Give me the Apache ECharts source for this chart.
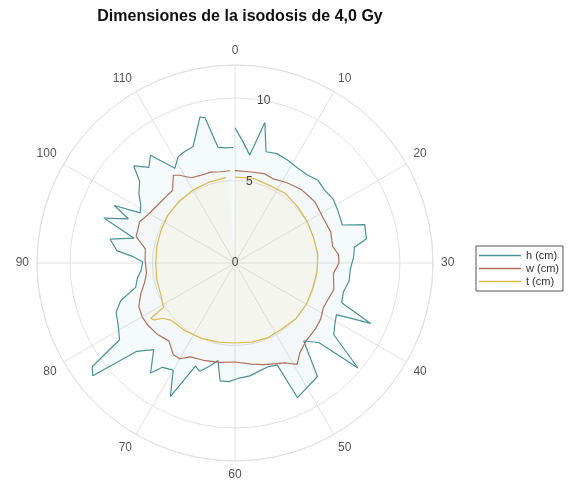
<!DOCTYPE html>
<html>
<head>
<meta charset="utf-8">
<script src="https://cdn.jsdelivr.net/npm/echarts@6/dist/echarts.min.js"></script>
<style>
  html, body { margin: 0; padding: 0; background: #fff; }
  #container { width: 576px; height: 485px; }
</style>
</head>
<body>
<div id="container"></div>
<script>
// angle axis runs 0..120 (clockwise, 0 at top), radius 0..12
const thetaTicks = [0, 10, 20, 30, 40, 50, 60, 70, 80, 90, 100, 110];
const rTicks = [0, 5, 10];
const seriesNames = ['h (cm)', 'w (cm)', 't (cm)'];

const hTheta = [0, 1.2, 2.6, 4.0, 5.2, 7, 9, 11, 13, 15, 17, 19, 21, 23.5, 24.5, 26.5, 27.5, 29, 31, 33,
    35, 36.8, 38, 39, 40.5, 42, 43.5, 44.5, 46.2, 48, 51.7, 52.5, 54, 55.6, 57.5, 59.5, 61, 62.4, 63.3, 64.5,
    66, 67, 68.6, 70, 71.6, 72.5, 74.4, 76, 77.2, 78, 78.8, 80.8, 82.5, 83.9, 85.4, 87, 88.6, 90.2, 91.2, 92,
    93.6, 94.6, 96.3, 97.5, 98.5, 99.3, 100.5, 102, 103.5, 104.6, 106, 107.3, 109.2, 110.6, 111.7, 113.4, 115.5, 116.1, 117.2, 118.5,
    119.7];
const hR = [8.2, 7.4, 6.6, 8.7, 7.0, 7.1, 7.0, 6.9, 6.9, 7.1, 7.0, 7.1, 7.0, 6.9, 8.2, 8.1, 7.3, 7.2, 7.0, 7.0,
    6.8, 6.9, 9.0, 6.9, 7.1, 7.4, 9.8, 7.0, 6.3, 8.5, 9.0, 6.7, 6.6, 6.7, 6.9, 7.0, 7.2, 7.2, 6.0, 6.4,
    6.9, 6.7, 9.0, 7.5, 7.7, 8.4, 7.2, 8.0, 11.0, 10.7, 8.4, 8.0, 7.8, 7.3, 6.2, 6.0, 5.7, 5.6, 6.2, 7.2,
    7.7, 6.3, 8.4, 7.0, 8.1, 6.5, 6.7, 7.2, 7.6, 8.5, 7.8, 8.3, 6.8, 7.3, 7.4, 7.5, 9.1, 9.0, 7.1, 7.0,
    7.0];

const wTheta = [0, 3, 6, 8, 11, 14, 17.5, 21, 24, 26.7, 28.5, 30, 32, 35, 38.9, 41, 43, 46, 48, 49.5,
    51, 54.7, 57, 60, 63, 66, 68.5, 70, 71.3, 73.4, 76, 78.4, 80, 81.9, 84, 86, 87.8, 90.6, 93, 95,
    97.8, 100, 102.3, 104.5, 106.4, 108.3, 109.2, 111, 113, 115, 117, 119];
const wR = [5.6, 5.6, 5.7, 5.6, 5.8, 6.0, 6.1, 6.0, 6.1, 6.0, 6.3, 6.3, 6.0, 6.2, 6.0, 6.2, 6.3, 6.4, 6.7, 7.2,
    6.8, 6.4, 6.2, 6.0, 6.1, 6.2, 6.3, 6.7, 6.7, 6.2, 6.4, 6.5, 6.5, 6.4, 6.0, 5.6, 5.4, 5.45, 5.5, 6.2,
    6.3, 6.0, 5.85, 5.8, 5.8, 6.5, 6.3, 5.8, 5.7, 5.7, 5.6, 5.6];

const tTheta = [0, 4, 8, 12, 16, 20, 24, 28, 32, 36, 40, 44, 48, 52, 56, 60, 64, 68, 72, 76,
    77.5, 78.3, 78.9, 79.4, 82, 86, 90, 94, 98, 102, 106, 110, 114, 118];
const tR = [5.2, 5.25, 5.15, 5.2, 5.1, 5.05, 5.0, 5.05, 5.0, 4.95, 5.0, 5.0, 4.9, 4.95, 4.9, 4.85, 4.9, 5.0, 5.1, 5.2,
    5.5, 6.0, 6.1, 5.1, 4.9, 4.85, 4.8, 4.85, 4.9, 5.0, 5.05, 5.1, 5.15, 5.2];

const lineColors = ['#4a9296', '#b0705c', '#d6bb50'];
const areaColors = ['rgba(120,200,210,0.10)', 'rgba(230,160,150,0.06)', 'rgba(250,235,160,0.12)'];

function pairs(rs, ts) {
    return rs.map((r, i) => [r, ts[i]]);
}

const seriesData = [pairs(hR, hTheta), pairs(wR, wTheta), pairs(tR, tTheta)];

let dom = document.getElementById('container');
let myChart = echarts.init(dom, null, { renderer: 'canvas' });

const labelFont = 'Liberation Sans';
const gridColor = '#e2e2e2';

let option = {
    animation: false,
    backgroundColor: '#fff',
    title: {
        text: 'Dimensiones de la isodosis de 4,0 Gy',
        left: 235,
        top: 4,
        textAlign: 'center',
        textStyle: { fontFamily: labelFont, fontSize: 16, fontWeight: 'bold', color: '#111' }
    },
    legend: {
        orient: 'vertical',
        left: 476,
        top: 246,
        icon: 'rect',
        itemWidth: 42,
        itemHeight: 1.5,
        itemGap: 2,
        padding: [4, 4, 4, 3],
        borderColor: '#555',
        borderWidth: 1,
        backgroundColor: '#fff',
        textStyle: { fontFamily: labelFont, fontSize: 11, color: '#333' },
        data: seriesNames
    },
    polar: [
        { center: [235, 263], radius: 198 },
        { center: [235, 263], radius: 198 }
    ],
    angleAxis: [
        {
            polarIndex: 0,
            type: 'value',
            min: 0,
            max: 120,
            interval: 10,
            startAngle: 90,
            clockwise: true,
            axisLine: { lineStyle: { color: gridColor, width: 1 } },
            axisTick: { show: false },
            axisLabel: {
                margin: 8,
                color: '#555',
                fontSize: 12,
                fontFamily: labelFont,
                formatter: v => thetaTicks.includes(v) ? String(v) : ''
            },
            splitLine: { show: true, lineStyle: { color: gridColor, width: 1 } }
        },
        {
            polarIndex: 1,
            type: 'value',
            min: 0,
            max: 120,
            startAngle: 80,
            clockwise: true,
            show: false
        }
    ],
    radiusAxis: [
        {
            polarIndex: 0,
            type: 'value',
            min: 0,
            max: 12,
            interval: 5,
            axisLine: { show: false },
            axisTick: { show: false },
            axisLabel: { show: false },
            splitLine: { show: true, lineStyle: { color: gridColor, width: 1 } }
        },
        {
            polarIndex: 1,
            type: 'value',
            min: 0,
            max: 12,
            interval: 5,
            z: 10,
            axisLine: { show: false },
            axisTick: { show: false },
            splitLine: { show: false },
            axisLabel: {
                margin: 0,
                align: 'center',
                verticalAlign: 'middle',
                color: '#444',
                fontSize: 12,
                fontFamily: labelFont,
                formatter: v => rTicks.includes(v) ? String(v) : ''
            }
        }
    ],
    series: seriesNames.map((name, i) => ({
        name: name,
        type: 'line',
        coordinateSystem: 'polar',
        polarIndex: 0,
        showSymbol: false,
        color: lineColors[i],
        lineStyle: { width: 1.2, color: lineColors[i] },
        areaStyle: { color: areaColors[i] },
        data: seriesData[i]
    }))
};
myChart.setOption(option);
</script>
</body>
</html>
